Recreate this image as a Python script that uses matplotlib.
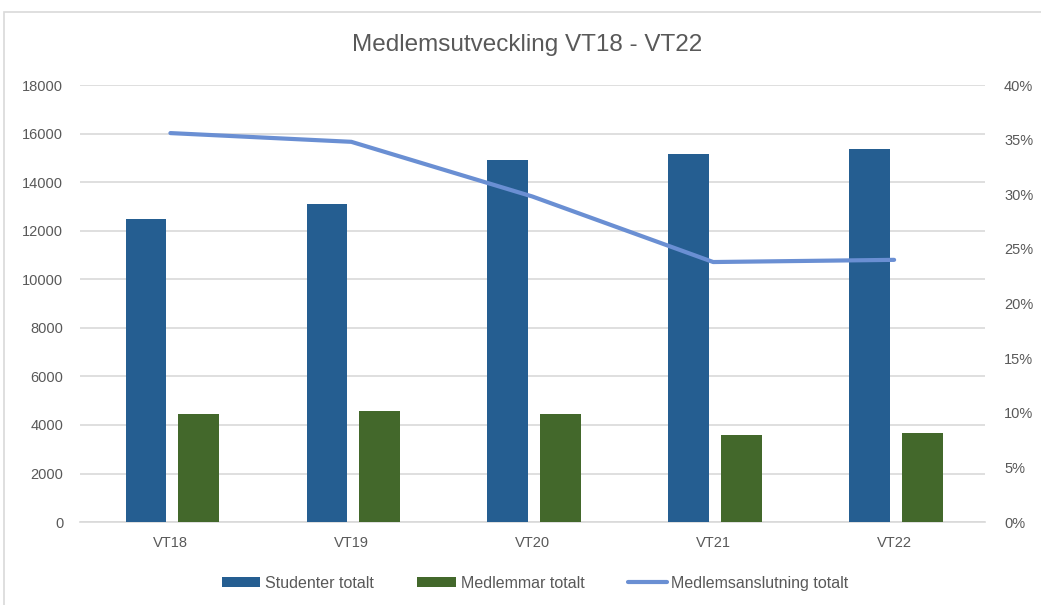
import numpy as np
import matplotlib.pyplot as plt
from matplotlib.patches import Rectangle
from matplotlib.ticker import FuncFormatter

plt.rcParams["font.family"] = ["Liberation Sans", "DejaVu Sans"]

# data
terms = ["VT18", "VT19", "VT20", "VT21", "VT22"]
studenter = [12500, 13100, 14900, 15140, 15360]
medlemmar = [4450, 4580, 4450, 3600, 3690]
anslutning = [35.6, 34.8, 29.8, 23.8, 24.0]   # percent

BLUE = "#255E91"
GREEN = "#43682B"
LINE = "#6A8FD3"
TEXT = "#595959"
GRID = "#D9D9D9"

fig = plt.figure(figsize=(10.41, 6.05), dpi=100)
ax = fig.add_axes([0.0768, 0.137, 0.869, 0.7225])

# chart-area frame
fig.patches.append(Rectangle((4 / 1041, -0.05), 1.1, 1 - 12 / 605 + 0.05,
                             transform=fig.transFigure, fill=False,
                             edgecolor=GRID, linewidth=1.2))

x = np.arange(len(terms))
width = 0.225
ax.bar(x - 0.135, studenter, width, color=BLUE, label="Studenter totalt", zorder=3)
ax.bar(x + 0.155, medlemmar, width, color=GREEN, label="Medlemmar totalt", zorder=3)

ax.set_xlim(-0.5, len(terms) - 0.5)
ax.set_ylim(0, 18000)
ax.set_yticks(np.arange(0, 18001, 2000))
ax.set_xticks(x)
ax.set_xticklabels(terms)
ax.grid(axis="y", color=GRID, linewidth=1.2, zorder=0)
ax.set_axisbelow(True)
for side in ("top", "left", "right"):
    ax.spines[side].set_visible(False)
ax.spines["bottom"].set_color(GRID)
ax.spines["bottom"].set_linewidth(1.2)
ax.tick_params(length=0, labelsize=10.5, colors=TEXT)
ax.tick_params(axis="y", pad=12)
ax.tick_params(axis="x", pad=10)

ax2 = ax.twinx()
ax2.plot(x, anslutning, color=LINE, linewidth=3, solid_capstyle="round",
         label="Medlemsanslutning totalt", zorder=4)
ax2.set_ylim(0, 40)
ax2.set_yticks(np.arange(0, 41, 5))
ax2.yaxis.set_major_formatter(FuncFormatter(lambda v, _: f"{v:.0f}%"))
for side in ("top", "left", "right", "bottom"):
    ax2.spines[side].set_visible(False)
ax2.tick_params(length=0, labelsize=10.5, colors=TEXT, pad=14)

fig.text(0.506, 0.925, "Medlemsutveckling VT18 - VT22", ha="center", va="center",
         fontsize=17.5, color=TEXT)

handles = ax.get_legend_handles_labels()[0] + ax2.get_legend_handles_labels()[0]
labels = ["Studenter totalt", "Medlemmar totalt", "Medlemsanslutning totalt"]
fig.legend(handles, labels, loc="center", bbox_to_anchor=(0.514, 0.036), ncol=3,
           frameon=False, fontsize=11.5, labelcolor=TEXT, handlelength=2.4,
           handleheight=0.55, handletextpad=0.3, columnspacing=2.75)

fig.savefig("out.png", dpi=100)
